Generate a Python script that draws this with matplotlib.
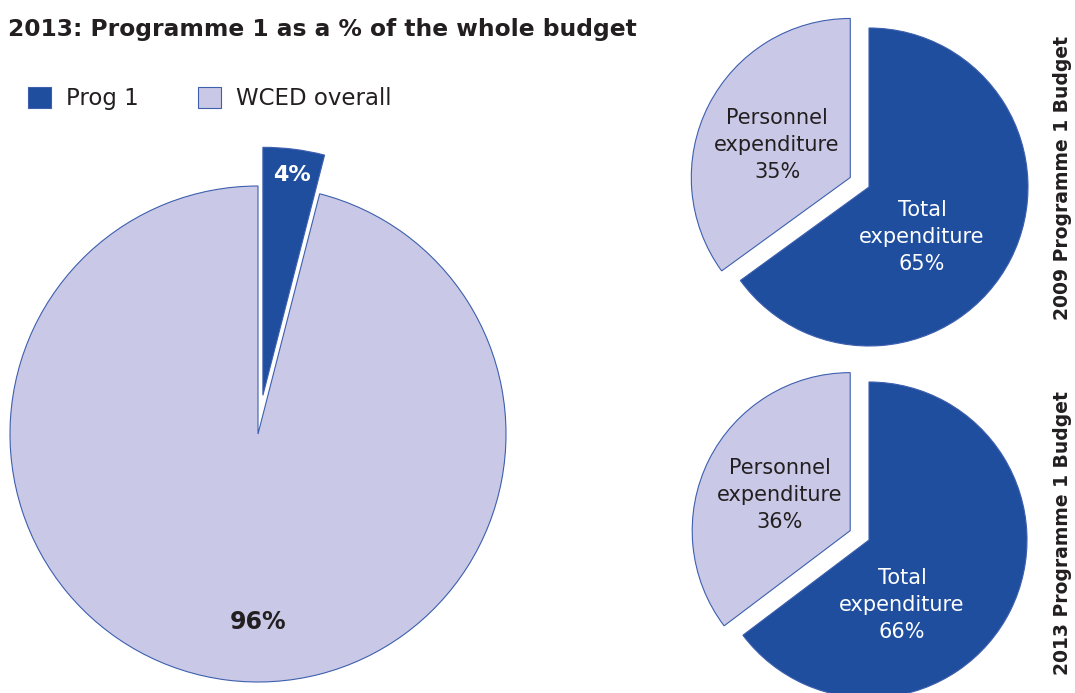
import numpy as np
import matplotlib
matplotlib.use("Agg")
import matplotlib.pyplot as plt

plt.rcParams['font.family'] = ['DejaVu Sans']

# данные
main_labels = ["Prog 1", "WCED overall"]
main_values = [4, 96]

budget_2009_labels = ["Total\nexpenditure", "Personnel\nexpenditure"]
budget_2009_values = [65, 35]

budget_2013_labels = ["Total\nexpenditure", "Personnel\nexpenditure"]
budget_2013_values = [66, 36]

dark = "#1f4e9f"
light = "#c9c9e7"
txt = "#231f20"

fig = plt.figure(figsize=(10.75, 6.93), dpi=100)
ax = fig.add_axes([0, 0, 1, 1])

edge = dict(edgecolor="#3d5fae", linewidth=0.8)

# большой круг
w_main, _ = ax.pie(main_values, colors=[dark, light], startangle=90, counterclock=False,
                   explode=[39, 0], center=(258, 259), radius=248, wedgeprops=edge)

# 2009
ax.pie(budget_2009_values, colors=[dark, light], startangle=90, counterclock=False,
       explode=[0, 21], center=(869, 506), radius=159, wedgeprops=edge)

# 2013
ax.pie(budget_2013_values, colors=[dark, light], startangle=90, counterclock=False,
       explode=[0, 21], center=(869, 153), radius=158, wedgeprops=edge)

ax.set_xlim(0, 1075)
ax.set_ylim(0, 693)
ax.set_aspect('equal')
ax.axis('off')

# подписи
ax.text(292, 518, f"{main_values[0]}%", color="white", fontsize=16, fontweight="bold",
        ha="center", va="center")
ax.text(258, 71, f"{main_values[1]}%", color=txt, fontsize=17, fontweight="bold",
        ha="center", va="center")

lab = dict(fontsize=15, ha="center", va="center", linespacing=1.45)
ax.text(922, 456, f"{budget_2009_labels[0]}\n{budget_2009_values[0]}%", color="white", **lab)
ax.text(777, 548, f"{budget_2009_labels[1]}\n{budget_2009_values[1]}%", color=txt, **lab)

ax.text(902, 88, f"{budget_2013_labels[0]}\n{budget_2013_values[0]}%", color="white", **lab)
ax.text(780, 198, f"{budget_2013_labels[1]}\n{budget_2013_values[1]}%", color=txt, **lab)

ax.text(1062, 515, "2009 Programme 1 Budget", rotation=90, color=txt, fontsize=13.5,
        fontweight="bold", ha="center", va="center")
ax.text(1062, 160, "2013 Programme 1 Budget", rotation=90, color=txt, fontsize=13.5,
        fontweight="bold", ha="center", va="center")

ax.text(8, 657, "2013: Programme 1 as a % of the whole budget", color=txt, fontsize=16.8,
        fontweight="bold", ha="left", va="baseline")

ax.legend(w_main, main_labels, loc="upper left", bbox_to_anchor=(28, 606),
          bbox_transform=ax.transData, ncol=2, frameon=False, fontsize=16.5,
          handlelength=1.0, handleheight=1.0, handletextpad=0.65, columnspacing=2.6,
          borderpad=0, borderaxespad=0, labelcolor=txt)

fig.savefig("out.png", dpi=100)
